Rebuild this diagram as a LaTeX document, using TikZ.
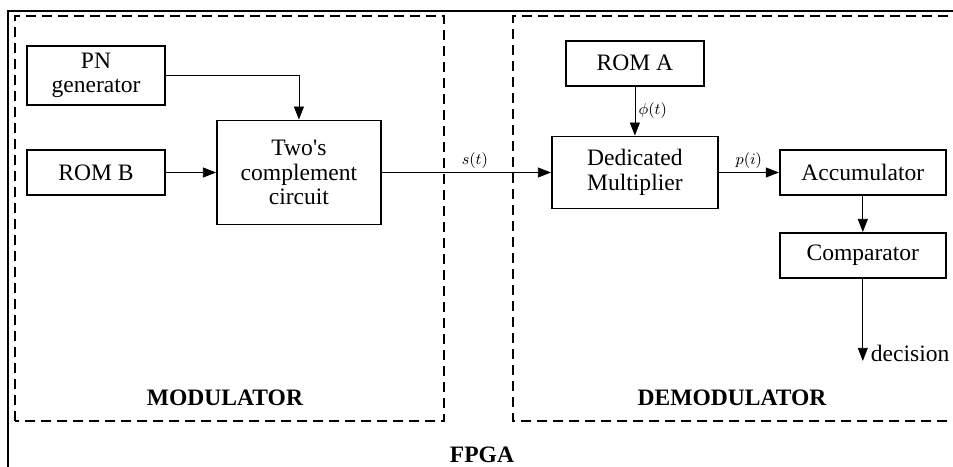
\documentclass[tikz,border=0pt]{standalone}
\usepackage{fontspec}
\setmainfont{Liberation Serif}
\usetikzlibrary{arrows.meta, positioning}
\newcommand{\mainsize}{\fontsize{13.4}{13.9}\selectfont}
\newcommand{\sigsize}{\fontsize{9}{10}\selectfont}
\tikzset{
  block/.style  = {draw, rectangle, line width=1.1pt,
                   minimum width=2.76cm, minimum height=0.90cm,
                   inner sep=2pt, align=center, font=\mainsize},
  wblock/.style = {block, minimum width=3.32cm},
  region/.style = {draw, dashed, line width=1.1pt,
                   dash pattern=on 0.2cm off 0.12cm},
  frame/.style  = {draw, line width=1.2pt},
  title/.style  = {font=\mainsize\bfseries},
  sig/.style    = {font=\sigsize, inner sep=2pt},
  >={Triangle[length=0.26cm, width=0.2cm]}, line width=1pt
}

\begin{document}
\begin{tikzpicture}

  \useasboundingbox (0,0) rectangle (19.06,9.32);

  %%──────────────────────────────────────────────────────────────────────────
  %%  FPGA FRAME AND DASHED REGIONS
  %%──────────────────────────────────────────────────────────────────────────
  \draw[frame] (0.16,-0.5) |- (19.6,9.10);
  \draw[region] (0.30,0.90) rectangle (8.88,9.00);
  \draw[region] (19.6,9.00) -| (10.26,0.90) -- (19.6,0.90);

  %%──────────────────────────────────────────────────────────────────────────
  %%  MODULATOR NODES
  %%──────────────────────────────────────────────────────────────────────────
  \node[block]                          (romb) at (1.92,5.87) {ROM B};
  \node[block, minimum height=1.18cm,
        above=0.86cm of romb]           (pn)   {PN\\generator};
  \node[block, minimum width=3.28cm, minimum height=2.08cm,
        right=1.0cm of romb]            (twos)
        {Two\textquotesingle s\\complement\\circuit};

  %%──────────────────────────────────────────────────────────────────────────
  %%  DEMODULATOR NODES
  %%──────────────────────────────────────────────────────────────────────────
  \node[wblock, minimum height=1.44cm,
        right=3.38cm of twos]           (mult) {Dedicated\\Multiplier};
  \node[block,  above=0.98cm of mult]   (roma) {ROM A};
  \node[wblock, right=1.2cm of mult]    (acc)  {Accumulator};
  \node[wblock, below=0.72cm of acc]    (comp) {Comparator};
  \coordinate[below=1.64cm of comp.south] (dec);

  %%──────────────────────────────────────────────────────────────────────────
  %%  WIRES
  %%──────────────────────────────────────────────────────────────────────────
  \draw[->] (pn.east) -| (twos.north);
  \draw[->] (romb)    -- (twos);
  \draw[->] (twos)    -- node[sig, above, pos=0.55]{$s(t)$}    (mult);
  \draw[->] (roma)    -- node[sig, right]{$\phi(t)$}            (mult);
  \draw[->] (mult)    -- node[sig, above]{$p(i)$}               (acc);
  \draw[->] (acc)     -- (comp);
  \draw[->] (comp)    -- (dec);
  \node[font=\mainsize, anchor=west, inner sep=1pt]
        (declbl) at ([xshift=0.12cm, yshift=0.14cm]dec) {decision};

  %%──────────────────────────────────────────────────────────────────────────
  %%  REGION TITLES
  %%──────────────────────────────────────────────────────────────────────────
  \node[title] (modlbl)  at (4.50,1.36)  {MODULATOR};
  \node[title] (demlbl)  at (14.64,1.36) {DEMODULATOR};
  \node[title] (fpgalbl) at (9.64,0.22)  {FPGA};

\end{tikzpicture}
\end{document}
